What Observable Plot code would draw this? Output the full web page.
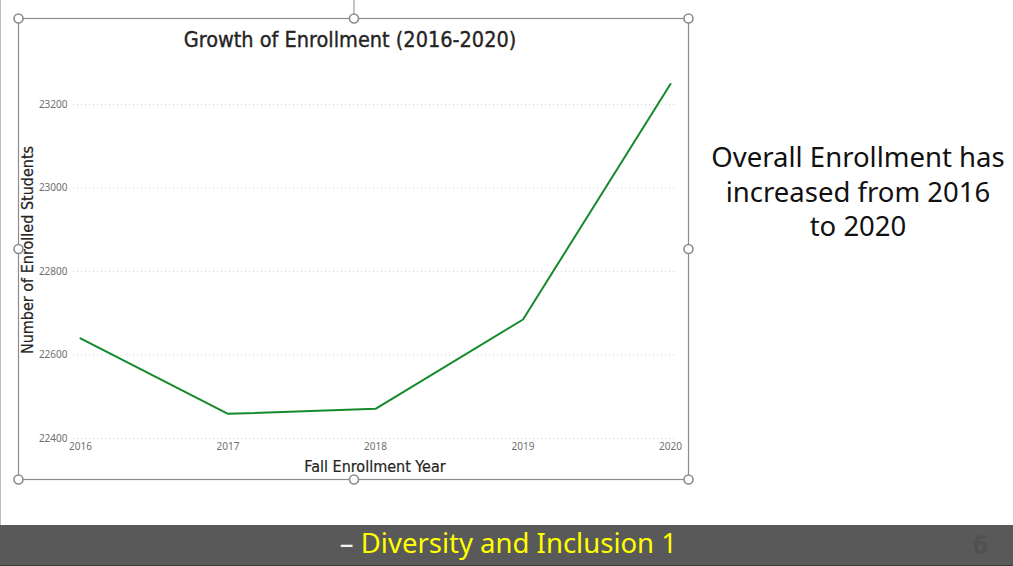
<!DOCTYPE html>
<html><head><meta charset="utf-8">
<script src="https://cdn.jsdelivr.net/npm/d3@7"></script>
<script src="https://cdn.jsdelivr.net/npm/@observablehq/plot@0.6"></script>
<style>
html,body{margin:0;padding:0;background:#fff;}
#slide{position:relative;width:1013px;height:566px;overflow:hidden;background:#fff;}
#chart{position:absolute;left:0;top:0;}
#overlay{position:absolute;left:0;top:0;pointer-events:none;}
#side{position:absolute;left:700px;top:140px;width:316px;text-align:center;font-family:"Noto Sans",sans-serif;font-size:27.5px;line-height:34.5px;color:#111;}
#bar{position:absolute;left:0;top:525px;width:1013px;height:40px;background:#595959;border-bottom:1px solid #3a3a3a;}
#footer{position:absolute;right:336px;top:-2px;height:40px;line-height:40px;font-family:"Noto Sans",sans-serif;font-size:27.5px;color:#ffff00;white-space:nowrap;}
#footer .dash{color:#f2f2f2;}
#pagenum{position:absolute;left:973px;top:-1px;height:40px;line-height:40px;font-family:"Noto Sans",sans-serif;font-weight:bold;font-size:26px;color:#505050;}
#edge{position:absolute;left:0;top:0;width:1px;height:525px;background:#bdbdbd;}
</style></head><body>
<div id="slide">
  <div id="edge"></div>
  <div id="chart"></div>
  <svg id="overlay" width="1013" height="566"></svg>
  <div id="side">Overall Enrollment has<br>increased from 2016<br>to 2020</div>
  <div id="bar"><div id="footer"><span class="dash">–</span> Diversity and Inclusion 1</div><div id="pagenum">6</div></div>
</div>
<script>
const years = [2016, 2017, 2018, 2019, 2020];
const enrollment = [22640, 22459, 22471, 22685, 23249];
const yTicks = [22400, 22600, 22800, 23000, 23200];
const chartTitle = "Growth of Enrollment (2016-2020)";
const xTitle = "Fall Enrollment Year";
const yTitle = "Number of Enrolled Students";

const data = years.map((y, i) => ({year: y, value: enrollment[i]}));

const plot = Plot.plot({
  width: 700,
  height: 490,
  marginLeft: 80,
  marginRight: 30,
  marginTop: 104,
  marginBottom: 52,
  style: {fontFamily: "'Noto Sans', sans-serif", fontSize: "10px", color: "#777", background: "transparent", overflow: "visible"},
  x: {domain: [2016, 2020], type: "linear"},
  y: {domain: [22400, 23200]},
  marks: [
    Plot.gridY(yTicks, {stroke: "#d0d0d0", strokeOpacity: 1, strokeDasharray: "1,3", insetLeft: -7, insetRight: -5}),
    Plot.axisY({ticks: yTicks, tickSize: 0, tickPadding: 13, tickFormat: d => String(d), label: null, fill: "#707070"}),
    Plot.axisX({ticks: years, tickSize: 0, tickPadding: 4, tickFormat: d => String(d), label: null, fill: "#707070"}),
    Plot.line(data, {x: "year", y: "value", stroke: "#138a2b", strokeWidth: 2})
  ]
});
document.getElementById("chart").appendChild(plot);

const svg = d3.select("#overlay");
// titles
svg.append("text").attr("x", 350).attr("y", 47).attr("text-anchor", "middle")
  .attr("font-family", "'DejaVu Sans Condensed', sans-serif").attr("font-size", 21.5)
  .attr("fill", "#252423").attr("stroke", "#252423").attr("stroke-width", 0.35).text(chartTitle);
svg.append("text").attr("x", 375).attr("y", 472).attr("text-anchor", "middle")
  .attr("font-family", "'DejaVu Sans Condensed', sans-serif").attr("font-size", 16)
  .attr("fill", "#252423").attr("stroke", "#252423").attr("stroke-width", 0.2).text(xTitle);
svg.append("text").attr("transform", "translate(33,250) rotate(-90)").attr("text-anchor", "middle")
  .attr("font-family", "'DejaVu Sans Condensed', sans-serif").attr("font-size", 16)
  .attr("fill", "#252423").attr("stroke", "#252423").attr("stroke-width", 0.2).text(yTitle);
// selection frame
const g = svg.append("g").attr("stroke", "#8c8c8c").attr("fill", "none");
g.append("line").attr("x1", 354).attr("x2", 354).attr("y1", 0).attr("y2", 19);
g.append("rect").attr("x", 18.5).attr("y", 18.5).attr("width", 670).attr("height", 461).attr("stroke-width", 1.2);
const hx = [18.5, 354, 688.5], hy = [18.5, 249, 479.5];
for (const x of hx) for (const y of hy) {
  if (x === 354 && y === 249) continue;
  g.append("circle").attr("cx", x).attr("cy", y).attr("r", 4.5).attr("fill", "#fff").attr("stroke-width", 1.6);
}
</script>
</body></html>
